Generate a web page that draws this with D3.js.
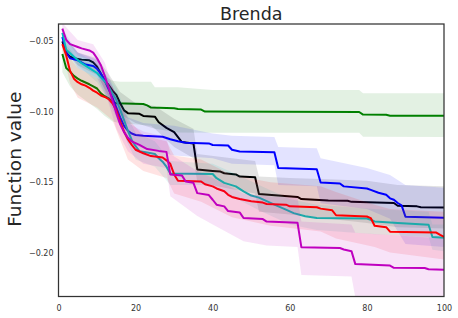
<!DOCTYPE html>
<html>
<head>
<meta charset="utf-8">
<script src="https://cdn.jsdelivr.net/npm/d3@7"></script>
<style>
  body { margin: 0; background: #fff; }
  text { font-family: "DejaVu Sans", sans-serif; }
</style>
</head>
<body>
<script>
// mean curves: [iteration, function value]
const greenMean = [[1,-0.059],[2,-0.069],[3,-0.0715],[4,-0.0745],[5,-0.0765],[6,-0.078],[8,-0.0805],[9,-0.082],[10,-0.0835],[11,-0.087],[12,-0.089],[13,-0.0905],[14,-0.093],[15,-0.094],[22,-0.0945],[23,-0.0955],[24,-0.097],[30,-0.0975],[31,-0.098],[37,-0.0985],[38,-0.0999],[78,-0.1002],[79,-0.102],[85,-0.1022],[86,-0.1028],[100,-0.1028]];
const blackMean = [[1,-0.050],[2,-0.058],[3,-0.061],[4,-0.062],[6,-0.063],[8,-0.0635],[9,-0.065],[10,-0.068],[11,-0.073],[12,-0.078],[13,-0.081],[14,-0.085],[15,-0.088],[16,-0.094],[17,-0.099],[18,-0.101],[21,-0.1015],[22,-0.103],[25,-0.1035],[26,-0.1075],[28,-0.1115],[30,-0.1145],[31,-0.118],[32,-0.1215],[35,-0.1225],[36,-0.141],[40,-0.142],[42,-0.1425],[43,-0.1437],[46,-0.1445],[47,-0.146],[51,-0.1465],[52,-0.1585],[57,-0.1595],[62,-0.1605],[63,-0.162],[70,-0.163],[75,-0.1632],[76,-0.164],[87,-0.1648],[88,-0.1668],[93,-0.1672],[94,-0.1678],[100,-0.168]];
const blueMean = [[1,-0.047],[2,-0.058],[3,-0.062],[5,-0.0635],[7,-0.0665],[9,-0.0675],[10,-0.0695],[11,-0.073],[12,-0.078],[13,-0.084],[14,-0.09],[15,-0.097],[16,-0.104],[17,-0.11],[18,-0.1135],[19,-0.1155],[20,-0.1165],[22,-0.117],[27,-0.1178],[29,-0.1195],[31,-0.121],[33,-0.122],[39,-0.1225],[40,-0.1236],[44,-0.124],[45,-0.127],[47,-0.1283],[56,-0.1288],[57,-0.14],[67,-0.1408],[68,-0.1503],[73,-0.151],[74,-0.153],[80,-0.1545],[81,-0.1555],[83,-0.1575],[85,-0.159],[86,-0.1615],[87,-0.1625],[88,-0.1648],[89,-0.1665],[90,-0.1745],[100,-0.1752]];
const cyanMean = [[1,-0.044],[2,-0.056],[4,-0.061],[6,-0.0655],[8,-0.069],[10,-0.0725],[12,-0.0785],[13,-0.082],[14,-0.087],[15,-0.0915],[16,-0.0985],[17,-0.106],[18,-0.1135],[19,-0.12],[20,-0.1245],[21,-0.128],[23,-0.129],[25,-0.13],[26,-0.133],[27,-0.1355],[28,-0.139],[29,-0.1438],[40,-0.1442],[41,-0.1472],[43,-0.1505],[46,-0.153],[48,-0.1565],[50,-0.1595],[52,-0.161],[54,-0.1635],[56,-0.166],[59,-0.1695],[61,-0.172],[64,-0.1742],[67,-0.1755],[80,-0.1758],[81,-0.1767],[82,-0.1779],[88,-0.179],[96,-0.1802],[97,-0.189],[100,-0.1895]];
const redMean = [[1,-0.052],[2,-0.060],[3,-0.071],[4,-0.0765],[5,-0.079],[6,-0.0805],[7,-0.0815],[8,-0.083],[9,-0.085],[10,-0.0865],[11,-0.0885],[12,-0.0895],[13,-0.091],[14,-0.094],[15,-0.099],[16,-0.107],[17,-0.114],[18,-0.1195],[19,-0.1235],[20,-0.127],[22,-0.1295],[24,-0.1315],[27,-0.1325],[28,-0.1345],[29,-0.137],[30,-0.1445],[31,-0.149],[37,-0.1495],[38,-0.1515],[40,-0.153],[41,-0.1545],[43,-0.1565],[44,-0.159],[45,-0.1605],[47,-0.162],[50,-0.1635],[53,-0.1645],[54,-0.1655],[59,-0.166],[60,-0.1672],[67,-0.1678],[68,-0.1688],[71,-0.17],[72,-0.1735],[80,-0.1744],[81,-0.1755],[82,-0.181],[85,-0.182],[86,-0.1852],[98,-0.1858],[99,-0.1875],[100,-0.1888]];
const magentaMean = [[1,-0.041],[2,-0.049],[3,-0.052],[5,-0.054],[6,-0.055],[8,-0.0565],[9,-0.058],[10,-0.062],[11,-0.067],[12,-0.0745],[13,-0.083],[14,-0.092],[15,-0.101],[16,-0.109],[17,-0.1145],[18,-0.1185],[19,-0.121],[21,-0.1235],[23,-0.1265],[26,-0.1278],[28,-0.1285],[29,-0.1445],[32,-0.1452],[33,-0.1495],[35,-0.1505],[36,-0.1578],[39,-0.1592],[40,-0.1625],[41,-0.166],[43,-0.1672],[44,-0.1705],[47,-0.1715],[48,-0.1755],[53,-0.1762],[54,-0.178],[62,-0.1788],[63,-0.1962],[73,-0.1968],[74,-0.1978],[76,-0.199],[77,-0.2082],[86,-0.2092],[87,-0.2108],[95,-0.211],[96,-0.2118],[100,-0.2122]];

// spread bands: [iteration, upper, lower]
const greenBand = [[1,-0.050,-0.072],[3,-0.056,-0.082],[5,-0.063,-0.088],[8,-0.066,-0.094],[10,-0.070,-0.098],[12,-0.075,-0.103],[14,-0.078,-0.107],[16,-0.0787,-0.108],[24,-0.0787,-0.110],[25,-0.0826,-0.112],[31,-0.0826,-0.1148],[40,-0.0845,-0.115],[78,-0.0845,-0.115],[79,-0.0869,-0.1178],[100,-0.0869,-0.118]];
const blackBand = [[1,-0.046,-0.054],[5,-0.058,-0.067],[10,-0.062,-0.074],[13,-0.073,-0.089],[16,-0.086,-0.102],[20,-0.094,-0.108],[25,-0.096,-0.112],[30,-0.105,-0.125],[35,-0.112,-0.133],[36,-0.130,-0.150],[45,-0.133,-0.155],[51,-0.135,-0.158],[52,-0.146,-0.171],[60,-0.147,-0.173],[70,-0.148,-0.176],[80,-0.149,-0.179],[88,-0.152,-0.182],[100,-0.153,-0.183]];
const blueBand = [[1,-0.044,-0.052],[5,-0.058,-0.069],[10,-0.063,-0.076],[14,-0.082,-0.098],[18,-0.104,-0.122],[22,-0.108,-0.126],[30,-0.110,-0.131],[40,-0.1155,-0.133],[45,-0.117,-0.137],[56,-0.118,-0.138],[57,-0.125,-0.152],[67,-0.126,-0.153],[68,-0.133,-0.165],[80,-0.140,-0.169],[86,-0.145,-0.176],[90,-0.152,-0.194],[100,-0.154,-0.196]];
const cyanBand = [[1,-0.041,-0.048],[5,-0.058,-0.067],[10,-0.066,-0.079],[15,-0.083,-0.100],[18,-0.104,-0.123],[20,-0.115,-0.134],[25,-0.121,-0.139],[29,-0.135,-0.152],[40,-0.137,-0.152],[45,-0.143,-0.160],[52,-0.152,-0.170],[60,-0.162,-0.180],[67,-0.166,-0.184],[82,-0.169,-0.187],[96,-0.171,-0.189],[97,-0.180,-0.198],[100,-0.180,-0.199]];
const redBand = [[1,-0.048,-0.056],[3,-0.062,-0.080],[5,-0.069,-0.090],[10,-0.076,-0.097],[14,-0.082,-0.106],[16,-0.094,-0.120],[18,-0.105,-0.134],[22,-0.117,-0.142],[28,-0.121,-0.147],[30,-0.131,-0.158],[37,-0.134,-0.164],[45,-0.145,-0.175],[55,-0.150,-0.181],[68,-0.153,-0.185],[72,-0.157,-0.190],[82,-0.166,-0.196],[86,-0.169,-0.200],[100,-0.171,-0.205]];
const magentaBand = [[1,-0.037,-0.045],[5,-0.049,-0.060],[9,-0.052,-0.064],[12,-0.065,-0.085],[15,-0.090,-0.112],[18,-0.108,-0.128],[22,-0.114,-0.137],[28,-0.118,-0.140],[29,-0.130,-0.160],[36,-0.142,-0.174],[40,-0.147,-0.180],[48,-0.158,-0.192],[54,-0.160,-0.195],[62,-0.161,-0.196],[63,-0.178,-0.216],[76,-0.180,-0.217],[77,-0.186,-0.232],[100,-0.190,-0.235]];

const xTicks = [0, 20, 40, 60, 80, 100];
const yTicks = [-0.05, -0.10, -0.15, -0.20];

const series = [
  {mean: greenMean, band: greenBand, color: "#008000"},
  {mean: blackMean, band: blackBand, color: "#000000"},
  {mean: blueMean, band: blueBand, color: "#0000ff"},
  {mean: cyanMean, band: cyanBand, color: "#00bfbf"},
  {mean: redMean, band: redBand, color: "#ff0000"},
  {mean: magentaMean, band: magentaBand, color: "#bf00bf"}
];

let margin, width, height, svg, x, y;

setupCanvasSize();
appendSvg("body");
setupScales();
appendSeries();
appendAxes();
appendLabels();

function setupCanvasSize() {
  margin = {top: 24, left: 58.5, bottom: 21.5, right: 14};
  width = 458 - margin.left - margin.right;
  height = 318 - margin.top - margin.bottom;
}

function appendSvg(domElement) {
  const root = d3.select(domElement).append("svg")
    .attr("width", 458)
    .attr("height", 318);
  root.append("defs").append("clipPath").attr("id", "plotclip")
    .append("rect").attr("width", width).attr("height", height);
  svg = root.append("g")
    .attr("transform", `translate(${margin.left}, ${margin.top})`);
}

function setupScales() {
  x = d3.scaleLinear().domain([0, 100]).range([0, width]);
  y = d3.scaleLinear().domain([-0.2312, -0.0377]).range([height, 0]);
}

function appendSeries() {
  const area = d3.area()
    .x(d => x(d[0]))
    .y0(d => y(d[2]))
    .y1(d => y(d[1]));
  const line = d3.line()
    .x(d => x(d[0]))
    .y(d => y(d[1]));

  const g = svg.append("g").attr("clip-path", "url(#plotclip)");
  series.forEach(s => {
    g.append("path")
      .attr("d", area(s.band))
      .style("fill", s.color)
      .style("fill-opacity", 0.11)
      .style("stroke", "none");
    g.append("path")
      .attr("d", line(s.mean))
      .style("fill", "none")
      .style("stroke", s.color)
      .style("stroke-width", 2)
      .style("stroke-linejoin", "round");
  });
}

function appendAxes() {
  const xAxis = svg.append("g")
    .attr("transform", `translate(0, ${height})`)
    .call(d3.axisBottom(x).tickValues(xTicks).tickSize(0).tickPadding(9));
  const yAxis = svg.append("g")
    .call(d3.axisLeft(y).tickValues(yTicks).tickSize(0).tickPadding(5)
      .tickFormat(d => d3.format(".2f")(d).replace("-", "\u2212")));

  [xAxis, yAxis].forEach(a => {
    a.select(".domain").remove();
    a.selectAll("text")
      .style("font-family", "DejaVu Sans, sans-serif")
      .style("font-size", "8px")
      .style("fill", "#333");
  });

  svg.append("rect")
    .attr("width", width)
    .attr("height", height)
    .style("fill", "none")
    .style("stroke", "#333")
    .style("stroke-width", 1.25);
}

function appendLabels() {
  svg.append("text")
    .attr("x", width / 2)
    .attr("y", -4)
    .style("text-anchor", "middle")
    .style("font-size", "17.5px")
    .style("fill", "#262626")
    .text("Brenda");

  svg.append("text")
    .attr("transform", "rotate(-90)")
    .attr("x", -height / 2 + 1)
    .attr("y", -38)
    .style("text-anchor", "middle")
    .style("font-size", "18.5px")
    .style("fill", "#262626")
    .text("Function value");
}
</script>
</body>
</html>
